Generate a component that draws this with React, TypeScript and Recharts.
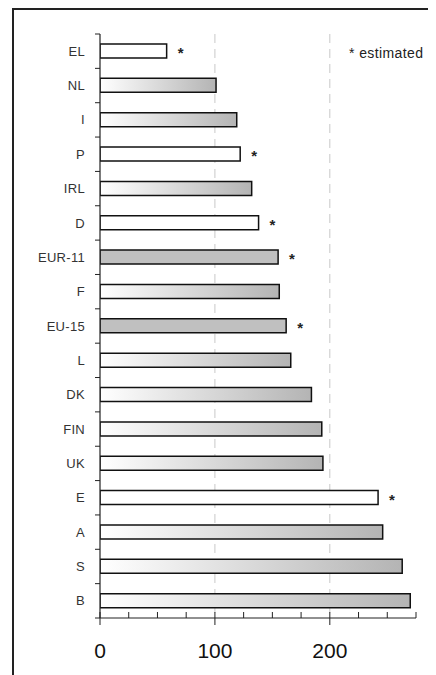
import React from "react";
import {
  BarChart,
  Bar,
  XAxis,
  YAxis,
  CartesianGrid,
  Cell,
  LabelList,
} from "recharts";

const categories = [
  "EL", "NL", "I", "P", "IRL", "D", "EUR-11", "F", "EU-15",
  "L", "DK", "FIN", "UK", "E", "A", "S", "B",
];
const values = [58, 101, 119, 122, 132, 138, 155, 156, 162, 166, 184, 193, 194, 242, 246, 263, 270];
const estimated = [
  true, false, false, true, false, true, true, false, true,
  false, false, false, false, true, false, false, false,
];
// plain = white (estimated countries), solid = grey aggregates, grad = white to grey
const fillKind = [
  "plain", "grad", "grad", "plain", "grad", "plain", "solid", "grad", "solid",
  "grad", "grad", "grad", "grad", "plain", "grad", "grad", "grad",
];
const labelledTicks = [0, 100, 200];
const axisTicks = [0, 25, 50, 75, 100, 125, 150, 175, 200, 225, 250, 275];

const data = categories.map((name, i) => ({
  name,
  value: values[i],
}));

const FILLS: Record<string, string> = {
  plain: "#ffffff",
  solid: "#c0c0c0",
  grad: "url(#barGrad)",
};

const FONT = "'Liberation Sans', Arial, sans-serif";
const INK = "#222";

function Star(props: any) {
  const { x, y, width, height, index } = props;
  if (!estimated[index]) return null;
  return (
    <text
      x={Number(x) + Number(width) + 11}
      y={Number(y) + Number(height) / 2 + 7}
      fontSize={15}
      fontWeight="bold"
      fontFamily={FONT}
      fill={INK}
    >
      *
    </text>
  );
}

// every 25 a short tick above the axis; 0/100/200 also get a tick below and a label
function ValueTick(props: any) {
  const { x, y, payload } = props;
  const v = payload.value;
  const major = labelledTicks.includes(v);
  return (
    <g>
      <line x1={x} x2={x} y1={y - 6} y2={major ? y + 7 : y} stroke={INK} />
      {major && (
        <text
          x={x}
          y={y + 25}
          dy="0.71em"
          textAnchor="middle"
          fontSize={21}
          fontFamily={FONT}
          fill="#111"
        >
          {v}
        </text>
      )}
    </g>
  );
}

// category label plus ticks on the band boundaries
function CategoryTick(props: any) {
  const { x, y, payload, index } = props;
  const half = payload.offset ?? 0;
  const last = index === categories.length - 1;
  return (
    <g>
      <line x1={x + 10} x2={x + 15} y1={y - half} y2={y - half} stroke={INK} />
      {last && (
        <line x1={x + 10} x2={x + 15} y1={y + half} y2={y + half} stroke={INK} />
      )}
      <text
        x={x}
        y={y}
        dy="0.355em"
        textAnchor="end"
        fontSize={13}
        letterSpacing={0.3}
        fontFamily={FONT}
        fill="#333"
      >
        {payload.value}
      </text>
    </g>
  );
}

export default function App() {
  return (
    <div
      style={{
        position: "relative",
        marginLeft: 4,
        width: 424,
        height: 667,
        borderLeft: "2px solid #222",
        borderTop: "2px solid #222",
        boxSizing: "border-box",
        fontFamily: FONT,
      }}
    >
      <BarChart
        width={422}
        height={665}
        data={data}
        layout="vertical"
        margin={{ top: 24, right: 20, bottom: 17, left: 0 }}
        barCategoryGap={0}
      >
        <defs>
          <linearGradient id="barGrad" x1="0" y1="0" x2="1" y2="0">
            <stop offset="0%" stopColor="#ffffff" />
            <stop offset="100%" stopColor="#b4b4b4" />
          </linearGradient>
        </defs>
        <CartesianGrid
          horizontal={false}
          verticalValues={[100, 200]}
          strokeDasharray="9 6"
          stroke="#c8c8c8"
        />
        <XAxis
          type="number"
          domain={[0, 275]}
          ticks={axisTicks}
          allowDataOverflow
          interval={0}
          height={40}
          tickSize={0}
          tickMargin={0}
          tickLine={false}
          axisLine={{ stroke: INK, strokeWidth: 1.2 }}
          tick={<ValueTick />}
        />
        <YAxis
          type="category"
          dataKey="name"
          width={86}
          tickSize={0}
          tickMargin={15}
          tickLine={false}
          axisLine={{ stroke: INK, strokeWidth: 1.2 }}
          interval={0}
          tick={<CategoryTick />}
        />
        <Bar
          dataKey="value"
          barSize={14}
          stroke="#111"
          strokeWidth={1.5}
          isAnimationActive={false}
        >
          {data.map((d, i) => (
            <Cell key={d.name} fill={FILLS[fillKind[i]]} />
          ))}
          <LabelList dataKey="value" content={Star} />
        </Bar>
      </BarChart>
      <div
        style={{
          position: "absolute",
          left: 335,
          top: 35,
          fontSize: 14,
          letterSpacing: 0.4,
          color: INK,
          whiteSpace: "nowrap",
        }}
      >
        * estimated
      </div>
    </div>
  );
}
